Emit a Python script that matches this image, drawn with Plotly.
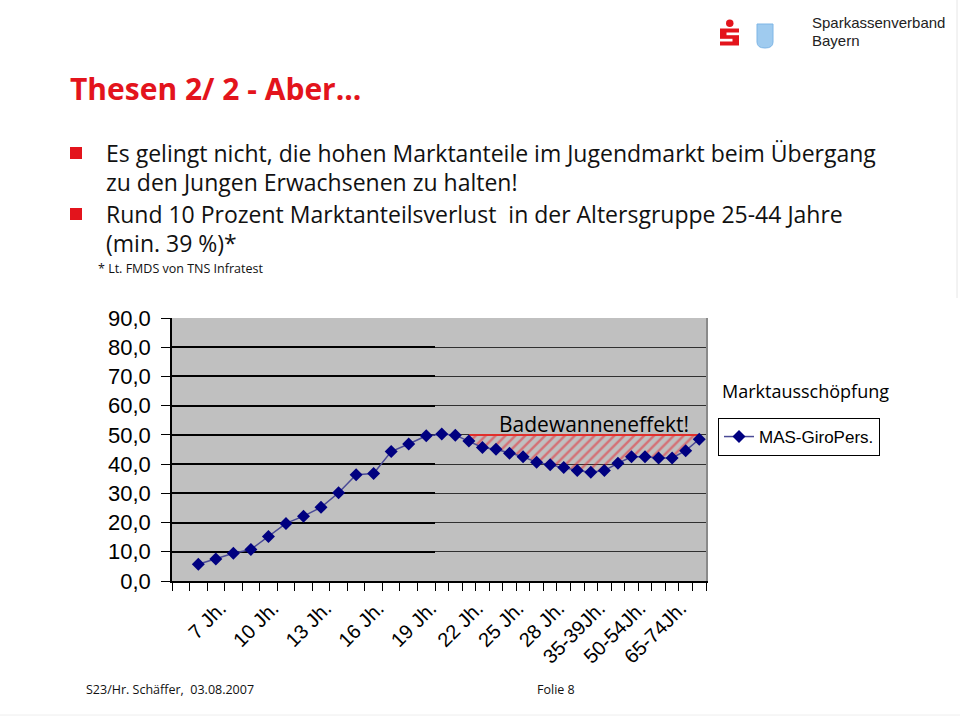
import plotly.graph_objects as go

# ---------------- data ----------------
categories = ["6 Jh.", "7 Jh.", "8 Jh.", "9 Jh.", "10 Jh.", "11 Jh.", "12 Jh.", "13 Jh.",
              "14 Jh.", "15 Jh.", "16 Jh.", "17 Jh.", "18 Jh.", "19 Jh.", "20 Jh.", "21 Jh.",
              "22 Jh.", "23 Jh.", "24 Jh.", "25 Jh.", "26 Jh.", "27 Jh.", "28 Jh.", "29 Jh.",
              "30-34Jh.", "35-39Jh.", "40-44Jh.", "45-49Jh.", "50-54Jh.", "55-59Jh.",
              "60-64Jh.", "65-74Jh.", "75-79Jh.", "80-84Jh.", "85+Jh."]
shown_labels = ["7 Jh.", "10 Jh.", "13 Jh.", "16 Jh.", "19 Jh.", "22 Jh.", "25 Jh.",
                "28 Jh.", "35-39Jh.", "50-54Jh.", "65-74Jh."]
mas_giro = [None, 5.7, 7.5, 9.5, 10.8, 15.2, 19.7, 22.2, 25.2, 30.2, 36.4, 36.8, 44.3,
            46.9, 49.7, 50.3, 49.9, 47.9, 45.7, 45.1, 43.7, 42.5, 40.6, 39.8, 38.8, 37.8,
            37.2, 37.8, 40.3, 42.5, 42.5, 42.1, 42.1, 44.6, 48.5]
series_name = "MAS-GiroPers."
legend_title = "Marktausschöpfung"
bathtub_level = 50.0
bathtub_start = 17          # first category of the hatched "Badewanne" region
left_slots = 15             # categories in the left chart piece
y_ticks = [0, 10, 20, 30, 40, 50, 60, 70, 80, 90]

# ---------------- helpers ----------------
W, H = 960, 720
def px(x):
    return x / W
def py(y):
    return 1 - y / H

RED = "#e3141c"
NAVY = "#000080"
LINE = "#4a4a96"
AX_FONT = "Liberation Sans, Arial, sans-serif"
SLIDE_FONT = "Open Sans, Noto Sans, sans-serif"

left_cats = categories[:left_slots + 1]
right_cats = categories[left_slots - 1:]

fig = go.Figure()

# left piece of the series (extends one point beyond, clipped at the splice)
fig.add_trace(go.Scatter(
    x=left_cats, y=mas_giro[:left_slots + 1], xaxis="x", yaxis="y",
    mode="lines+markers", name=series_name, legendgroup="mas",
    line=dict(color=LINE, width=1.5),
    marker=dict(symbol="diamond", size=10, color=NAVY),
))

# bathtub reference line and hatched area (right piece)
fig.add_trace(go.Scatter(
    x=categories[bathtub_start:], y=[bathtub_level] * len(categories[bathtub_start:]),
    xaxis="x2", yaxis="y2", mode="lines", showlegend=False, hoverinfo="skip",
    line=dict(color="#e0302c", width=2),
))
fig.add_trace(go.Scatter(
    x=categories[bathtub_start:], y=mas_giro[bathtub_start:],
    xaxis="x2", yaxis="y2", mode="lines", showlegend=False, hoverinfo="skip",
    line=dict(width=0, color="rgba(0,0,0,0)"),
    fill="tonexty", fillcolor="rgba(0,0,0,0)",
    fillpattern=dict(shape="/", fgcolor="#e8202a", bgcolor="rgba(0,0,0,0)",
                     size=7, solidity=0.35),
))

# right piece of the series (starts one point before, clipped at the splice)
fig.add_trace(go.Scatter(
    x=right_cats, y=mas_giro[left_slots - 1:], xaxis="x2", yaxis="y2",
    mode="lines+markers", name=series_name, legendgroup="mas", showlegend=False,
    line=dict(color=LINE, width=1.5),
    marker=dict(symbol="diamond", size=10, color=NAVY),
))

def tick_text(cats):
    return [c if c in shown_labels else "" for c in cats]

xcommon = dict(type="category", showgrid=False, zeroline=False, showline=True,
               linecolor="black", linewidth=1.5, ticks="outside", ticklen=8,
               tickcolor="black", tickson="boundaries", tickangle=-45,
               tickfont=dict(family=AX_FONT, size=20, color="black"),
               ticklabelshift=22, ticklabelstandoff=6, fixedrange=True,
               automargin=False)

ydom = [py(581), py(318)]

fig.update_layout(
    width=W, height=H, margin=dict(l=0, r=0, t=0, b=0, pad=0, autoexpand=False),
    paper_bgcolor="white", plot_bgcolor="#c0c0c0",
    separators=",.",
    xaxis=dict(domain=[px(172), px(435)], categoryorder="array", categoryarray=left_cats,
               range=[-0.5, left_slots - 0.5], tickvals=categories[:left_slots],
               ticktext=tick_text(categories[:left_slots]), anchor="y", **xcommon),
    xaxis2=dict(domain=[px(435), px(706)], categoryorder="array", categoryarray=right_cats,
                range=[0.5, len(right_cats) - 0.5], tickvals=right_cats[1:],
                ticktext=tick_text(right_cats[1:]), anchor="y2", **xcommon),
    yaxis=dict(domain=ydom, range=[0, 90], tickvals=y_ticks, tickformat=".1f",
               showgrid=True, gridcolor="black", gridwidth=1.5, zeroline=False,
               showline=True, linecolor="black", linewidth=1.5, ticks="outside",
               ticklen=9, tickcolor="black", anchor="x", automargin=False,
               ticklabelstandoff=6,
               tickfont=dict(family=AX_FONT, size=22, color="black")),
    yaxis2=dict(domain=ydom, range=[0, 90], tickvals=y_ticks, showticklabels=False,
                showgrid=True, gridcolor="#303030", gridwidth=1, zeroline=False,
                showline=True, linecolor="#8a8a8a", linewidth=1.5, side="right",
                ticks="", anchor="x2", automargin=False),
    showlegend=True,
    legend=dict(x=px(718), y=py(418), xanchor="left", yanchor="top",
                bgcolor="white", bordercolor="black", borderwidth=1,
                font=dict(family=AX_FONT, size=17, color="black"),
                itemclick=False, itemdoubleclick=False, itemwidth=30),
)

annotations = [
    dict(x=px(68), y=py(88), text="<b>Thesen 2/ 2 - Aber...</b>", xanchor="left",
         yanchor="middle", font=dict(family=SLIDE_FONT, size=30, color=RED)),
    dict(x=px(104), y=py(153), text="Es gelingt nicht, die hohen Marktanteile im Jugendmarkt beim Übergang",
         xanchor="left", yanchor="middle", font=dict(family=SLIDE_FONT, size=23, color="#111")),
    dict(x=px(104), y=py(182), text="zu den Jungen Erwachsenen zu halten!",
         xanchor="left", yanchor="middle", font=dict(family=SLIDE_FONT, size=23, color="#111")),
    dict(x=px(104), y=py(214), text="Rund 10 Prozent Marktanteilsverlust  in der Altersgruppe 25-44 Jahre",
         xanchor="left", yanchor="middle", font=dict(family=SLIDE_FONT, size=23, color="#111")),
    dict(x=px(104), y=py(243), text="(min. 39 %)*",
         xanchor="left", yanchor="middle", font=dict(family=SLIDE_FONT, size=23, color="#111")),
    dict(x=px(96), y=py(268), text="* Lt. FMDS von TNS Infratest",
         xanchor="left", yanchor="middle", font=dict(family=SLIDE_FONT, size=12.5, color="#111")),
    dict(x=px(84), y=py(689), text="S23/Hr. Schäffer,  03.08.2007",
         xanchor="left", yanchor="middle", font=dict(family=SLIDE_FONT, size=12.5, color="#111")),
    dict(x=px(535), y=py(689), text="Folie 8",
         xanchor="left", yanchor="middle", font=dict(family=SLIDE_FONT, size=12.5, color="#111")),
    dict(x=px(810), y=py(22), text="Sparkassenverband", xanchor="left", yanchor="middle",
         font=dict(family=AX_FONT, size=15, color="#222")),
    dict(x=px(810), y=py(40), text="Bayern", xanchor="left", yanchor="middle",
         font=dict(family=AX_FONT, size=15, color="#222")),
    dict(x=px(594), y=py(424), text="Badewanneneffekt!", xanchor="center", yanchor="middle",
         font=dict(family=SLIDE_FONT, size=21, color="black")),
    dict(x=px(720), y=py(391), text=legend_title, xanchor="left", yanchor="middle",
         font=dict(family=SLIDE_FONT, size=18, color="black")),
]
for a in annotations:
    a.update(xref="paper", yref="paper", showarrow=False)
fig.update_layout(annotations=annotations)

def rect(x0, y0, x1, y1, color, line=None):
    return dict(type="rect", xref="paper", yref="paper", x0=px(x0), x1=px(x1),
                y0=py(y1), y1=py(y0), fillcolor=color,
                line=dict(width=0) if line is None else line, layer="above")

shapes = [
    rect(70, 147, 82, 159, RED),
    rect(70, 208, 82, 220, RED),
    # Sparkasse logo
    dict(type="circle", xref="paper", yref="paper", x0=px(726), x1=px(733.5),
         y0=py(27), y1=py(19.5), fillcolor="#e3141c", line=dict(width=0)),
    rect(720, 28.5, 739, 45.5, "#e3141c"),
    rect(726.5, 32.5, 739.5, 35.2, "white"),
    rect(719.5, 38.8, 732.5, 41.5, "white"),
    # Bavarian shield
    dict(type="path", xref="paper", yref="paper",
         path=f"M {px(757)},{py(24)} L {px(773)},{py(24)} L {px(773)},{py(42)} "
              f"Q {px(773)},{py(48)} {px(765)},{py(48)} Q {px(757)},{py(48)} {px(757)},{py(42)} Z",
         fillcolor="#9fcbef", line=dict(color="#7fb6e6", width=1)),
    # faint slide frame lines
    dict(type="line", xref="paper", yref="paper", x0=px(957), x1=px(957), y0=py(0), y1=py(298),
         line=dict(color="#e6e6e6", width=1)),
    dict(type="line", xref="paper", yref="paper", x0=px(0), x1=px(960), y0=py(715), y1=py(715),
         line=dict(color="#eeeeee", width=1)),
]
fig.update_layout(shapes=shapes)

fig.write_html("out.html")
